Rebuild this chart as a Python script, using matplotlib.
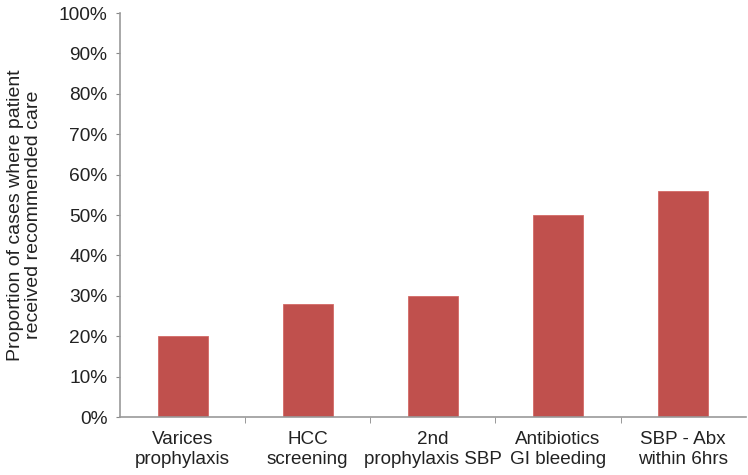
import matplotlib.pyplot as plt
from matplotlib.ticker import PercentFormatter

CATEGORIES = [
    "Varices\nprophylaxis",
    "HCC\nscreening",
    "2nd\nprophylaxis SBP",
    "Antibiotics\nGI bleeding",
    "SBP - Abx\nwithin 6hrs",
]
VALUES = [20, 28, 30, 50, 56]

plt.rcParams["font.family"] = ["Liberation Sans", "DejaVu Sans"]

fig = plt.figure(figsize=(7.48, 4.75), dpi=100)
ax = fig.add_axes([0.1604, 0.1221, 0.8366, 0.8505])

x = list(range(len(CATEGORIES)))
ax.bar(x, VALUES, width=0.4, color="#C0504D", edgecolor="#D46A66", linewidth=0.6)

ax.set_xlim(-0.5, len(CATEGORIES) - 0.5)
ax.set_ylim(0, 100)
ax.set_yticks(range(0, 101, 10))
ax.yaxis.set_major_formatter(PercentFormatter(decimals=0))
ax.set_xticks(x)
ax.set_xticklabels(CATEGORIES, fontsize=13.6, color="#222222", linespacing=1.25)
ax.set_xticks([i + 0.5 for i in range(len(CATEGORIES) - 1)], minor=True)

ax.tick_params(axis="x", which="major", length=0, pad=10)
ax.tick_params(axis="x", which="minor", length=4, color="#888888")
ax.tick_params(axis="y", length=3, color="#888888", labelsize=13.8,
               labelcolor="#222222", pad=6)

for side in ("top", "right"):
    ax.spines[side].set_visible(False)
for side in ("left", "bottom"):
    ax.spines[side].set_color("#999999")
    ax.spines[side].set_linewidth(1.2)

ax.set_ylabel("Proportion of cases where patient\nreceived recommended care",
              fontsize=14, color="#222222", labelpad=12, linespacing=1.05)

fig.savefig("out.png", dpi=100)
